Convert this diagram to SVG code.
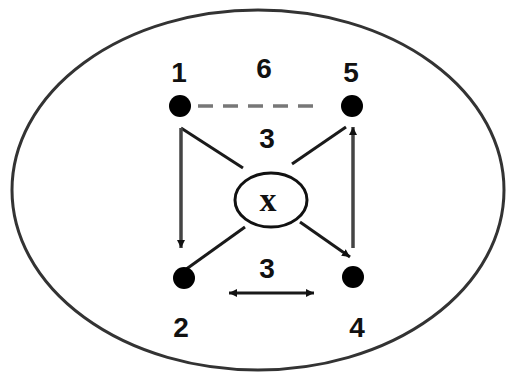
<svg xmlns="http://www.w3.org/2000/svg" width="508" height="373" viewBox="0 0 508 373">
  <style>
    .lbl { font-family: "Liberation Sans", Arial, sans-serif; font-weight: bold; font-size: 28px; fill: #111; text-anchor: middle; }
    .xl { font-family: "Liberation Serif", "Times New Roman", serif; font-weight: bold; font-size: 34px; fill: #111; text-anchor: middle; }
    .dot { fill: #000; }
    .ln { stroke: #1a1a1a; stroke-width: 3; fill: none; }
    .vl { stroke: #444; stroke-width: 3.5; fill: none; }
  </style>
  <defs>
    <marker id="ah" markerUnits="userSpaceOnUse" markerWidth="10" markerHeight="10" viewBox="0 0 10 10" refX="8" refY="5" orient="auto-start-reverse">
      <path d="M0,1 L8,5 L0,9 Z" fill="#111"/>
    </marker>
  </defs>
  <rect width="508" height="373" fill="#fff"/>
  <g id="boundary">
    <ellipse cx="258" cy="190" rx="246" ry="180" fill="none" stroke="#333" stroke-width="3"/>
  </g>
  <g id="connectors">
    <line x1="198" y1="106" x2="320" y2="106" stroke="#777" stroke-width="3.5" stroke-dasharray="15 10"/>
    <polyline class="ln" points="243,168 181,128"/>
    <line class="vl" x1="181" y1="128" x2="181" y2="248" marker-end="url(#ah)"/>
    <line class="ln" x1="292" y1="164" x2="346" y2="127"/>
    <line class="vl" x1="353" y1="248" x2="353" y2="127" marker-end="url(#ah)"/>
    <line class="ln" x1="245" y1="227" x2="185" y2="270"/>
    <line class="ln" x1="300" y1="222" x2="350" y2="257" marker-end="url(#ah)"/>
    <line class="ln" x1="229" y1="293" x2="314" y2="293" marker-start="url(#ah)" marker-end="url(#ah)"/>
  </g>
  <g id="node1"><circle class="dot" cx="180" cy="106" r="11"/><text class="lbl" x="179" y="82">1</text></g>
  <g id="node5"><circle class="dot" cx="352" cy="106" r="11"/><text class="lbl" x="351" y="82">5</text></g>
  <g id="node2"><circle class="dot" cx="184" cy="278" r="11"/><text class="lbl" x="181" y="337">2</text></g>
  <g id="node4"><circle class="dot" cx="353" cy="277" r="11"/><text class="lbl" x="357" y="337">4</text></g>
  <g id="nodeX"><ellipse cx="271" cy="200" rx="36" ry="27" fill="none" stroke="#111" stroke-width="3"/><text class="xl" x="268" y="211">x</text></g>
  <g id="labels">
    <text class="lbl" x="264" y="78">6</text>
    <text class="lbl" x="267" y="148">3</text>
    <text class="lbl" x="267" y="278">3</text>
  </g>
</svg>
